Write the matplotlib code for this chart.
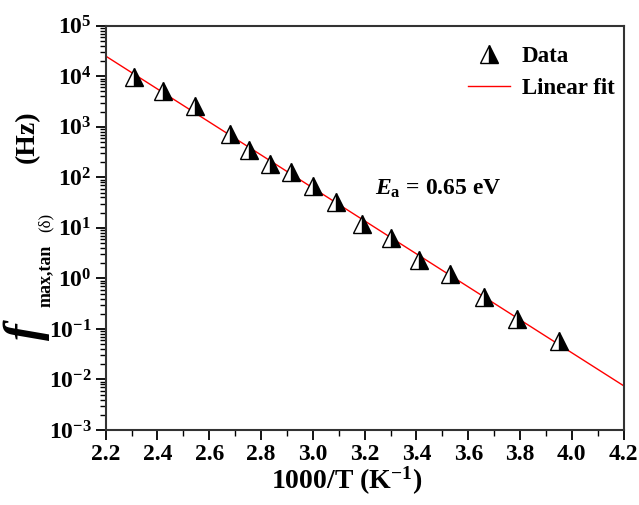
import matplotlib
matplotlib.use("Agg")
import matplotlib.pyplot as plt
import numpy as np
from matplotlib.ticker import LogLocator, MultipleLocator, LogFormatterMathtext, NullFormatter

plt.rcParams['font.family'] = 'Liberation Serif'
plt.rcParams['font.weight'] = 'bold'
plt.rcParams['mathtext.fontset'] = 'custom'
plt.rcParams['mathtext.rm'] = 'Liberation Serif:bold'
plt.rcParams['mathtext.bf'] = 'Liberation Serif:bold'
plt.rcParams['mathtext.it'] = 'Liberation Serif:italic:bold'

# data
inv_T = [2.31, 2.42, 2.545, 2.68, 2.755, 2.835, 2.915, 3.0, 3.09,
         3.19, 3.30, 3.41, 3.53, 3.66, 3.79, 3.95]
f_max = [9500, 5000, 2600, 720, 350, 186, 130, 66, 33,
         12, 6.3, 2.3, 1.2, 0.43, 0.16, 0.059]

x_ticks = [2.2, 2.4, 2.6, 2.8, 3.0, 3.2, 3.4, 3.6, 3.8, 4.0, 4.2]

# linear fit of log10(f) vs 1000/T
slope, icpt = np.polyfit(inv_T, np.log10(f_max), 1)
xfit = np.linspace(2.2, 4.2, 50)
yfit = 10 ** (icpt + slope * xfit)

fig = plt.figure(figsize=(6.39, 5.05), dpi=100)
ax = fig.add_axes([0.1654, 0.1485, 0.8106, 0.8005])

ax.plot(xfit, yfit, color='red', lw=1.0, label='Linear fit', zorder=2)
ax.plot(inv_T, f_max, ls='none', marker='^', ms=13, fillstyle='right',
        markerfacecolor='black', markerfacecoloralt='white',
        markeredgecolor='black', markeredgewidth=1.0, label='Data', zorder=3)

ax.set_yscale('log')
ax.set_xlim(2.2, 4.2)
ax.set_ylim(1e-3, 1e5)
ax.set_xticks(x_ticks)
ax.xaxis.set_minor_locator(MultipleLocator(0.1))
ax.yaxis.set_major_locator(LogLocator(base=10, numticks=20))
ax.yaxis.set_minor_locator(LogLocator(base=10, subs=np.arange(2, 10), numticks=20))
ax.yaxis.set_major_formatter(LogFormatterMathtext())
ax.yaxis.set_minor_formatter(NullFormatter())

ax.tick_params(axis='both', which='major', direction='out', length=7, width=1.3,
               labelsize=17, top=False, right=False, pad=3)
ax.tick_params(axis='both', which='minor', direction='out', length=4, width=1.0,
               top=False, right=False)
for sp in ax.spines.values():
    sp.set_linewidth(1.5)
    sp.set_color('#333333')

ax.set_xlabel('1000/T (K$^{\\mathbf{-1}}$)', fontsize=20, fontweight='bold', labelpad=2)
ax.xaxis.set_label_coords(0.465, -0.085)

# y label in pieces: big italic f, subscript, (delta), (Hz)
lab = dict(transform=ax.transAxes, rotation=90, rotation_mode='anchor',
           ha='left', va='baseline', clip_on=False)
ax.text(-0.128, 0.222, 'f', fontsize=36, style='italic', fontweight='bold', **lab)
ax.text(-0.107, 0.305, 'max,tan', fontsize=13, fontweight='bold', **lab)
ax.text(-0.109, 0.49, '(\u03b4)', fontsize=12, fontweight='normal', **lab)
ax.text(-0.138, 0.66, '(Hz)', fontsize=20, fontweight='bold', **lab)

ax.text(3.24, 10 ** 1.65, r'$E_{\mathbf{a}}$ = 0.65 eV', fontsize=17, fontweight='bold')

h, l = ax.get_legend_handles_labels()
ax.legend(h[::-1], l[::-1], loc='upper right', bbox_to_anchor=(1.0135, 0.99),
          frameon=False, fontsize=16.5, handlelength=1.85, handletextpad=0.5,
          borderaxespad=0.3, labelspacing=0.5)

fig.savefig('out.png', dpi=100)
